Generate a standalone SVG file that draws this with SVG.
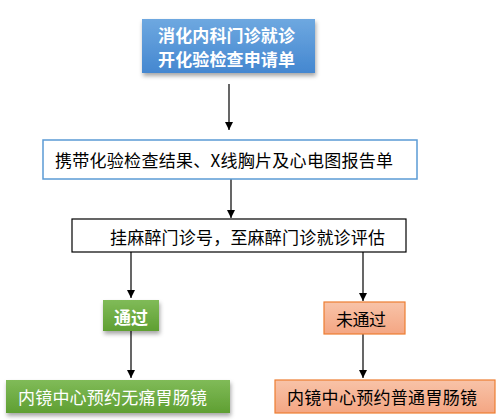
<svg xmlns="http://www.w3.org/2000/svg" width="501" height="420" viewBox="0 0 501 420">
<style>
text{font-family:"Noto Sans CJK SC","Noto Sans",sans-serif;font-size:17px;dominant-baseline:central}
.w{fill:#fff}
.b{fill:#000}
.c{stroke:#000;stroke-width:1.2;fill:none}
</style>
<defs>
<linearGradient id="gb" x1="0" y1="0" x2="0" y2="1"><stop offset="0" stop-color="#6ea8e0"/><stop offset="1" stop-color="#4487d0"/></linearGradient>
<linearGradient id="gg" x1="0" y1="0" x2="0" y2="1"><stop offset="0" stop-color="#80bb58"/><stop offset="1" stop-color="#5f9f32"/></linearGradient>
<linearGradient id="go" x1="0" y1="0" x2="0" y2="1"><stop offset="0" stop-color="#f8c3a8"/><stop offset="1" stop-color="#f4a683"/></linearGradient>
<filter id="sh" x="-10%" y="-20%" width="120%" height="150%"><feDropShadow dx="1" dy="3" stdDeviation="2" flood-color="#000" flood-opacity="0.35"/></filter>
<marker id="ar" markerWidth="10" markerHeight="10" refX="8" refY="5" orient="auto" markerUnits="userSpaceOnUse"><path d="M0,1 L8,5 L0,9 Z" fill="#000"/></marker>
</defs>
<g id="connectors">
<line class="c" x1="229" y1="84" x2="229" y2="130" marker-end="url(#ar)" stroke="#444"/>
<line class="c" x1="231" y1="179" x2="231" y2="218" marker-end="url(#ar)"/>
<line class="c" x1="131" y1="252" x2="131" y2="298" marker-end="url(#ar)"/>
<line class="c" x1="363" y1="252" x2="363" y2="301" marker-end="url(#ar)"/>
<line class="c" x1="131" y1="331" x2="131" y2="378" marker-end="url(#ar)"/>
<line class="c" x1="363" y1="334" x2="363" y2="378" marker-end="url(#ar)"/>
</g>
<g id="n1">
<rect x="142" y="19" width="173" height="54" fill="url(#gb)" filter="url(#sh)"/>
<text class="w" x="158" y="34" font-size="16" font-weight="bold" textLength="137" lengthAdjust="spacing">消化内科门诊就诊</text>
<text class="w" x="158" y="58" font-size="16" font-weight="bold" textLength="137" lengthAdjust="spacing">开化验检查申请单</text>
</g>
<g id="n2">
<rect x="43" y="140" width="374" height="39" fill="#fff" stroke="#5b9bd5" stroke-width="1.5"/>
<text class="b" x="55" y="159" textLength="338" lengthAdjust="spacing">携带化验检查结果、X线胸片及心电图报告单</text>
</g>
<g id="n3">
<rect x="72" y="219" width="334" height="33" fill="#fff" stroke="#000" stroke-width="1.2"/>
<text class="b" x="110" y="236" textLength="275" lengthAdjust="spacing">挂麻醉门诊号，至麻醉门诊就诊评估</text>
</g>
<g id="n4">
<rect x="103" y="300" width="56" height="31" fill="url(#gg)" filter="url(#sh)"/>
<text class="w" x="114" y="316" font-weight="bold" textLength="34" lengthAdjust="spacing">通过</text>
</g>
<g id="n5">
<rect x="324" y="302" width="81" height="32" fill="url(#go)" stroke="#ed7d31" stroke-width="1.2"/>
<text class="b" x="336" y="318" textLength="50" lengthAdjust="spacing">未通过</text>
</g>
<g id="n6">
<rect x="6" y="380" width="224" height="33" fill="url(#gg)" filter="url(#sh)"/>
<text class="w" x="18" y="396" textLength="189" lengthAdjust="spacing">内镜中心预约无痛胃肠镜</text>
</g>
<g id="n7">
<rect x="275" y="380" width="220" height="33" fill="url(#go)" stroke="#ed7d31" stroke-width="1.2"/>
<text class="b" x="287" y="396" textLength="190" lengthAdjust="spacing">内镜中心预约普通胃肠镜</text>
</g>
</svg>
